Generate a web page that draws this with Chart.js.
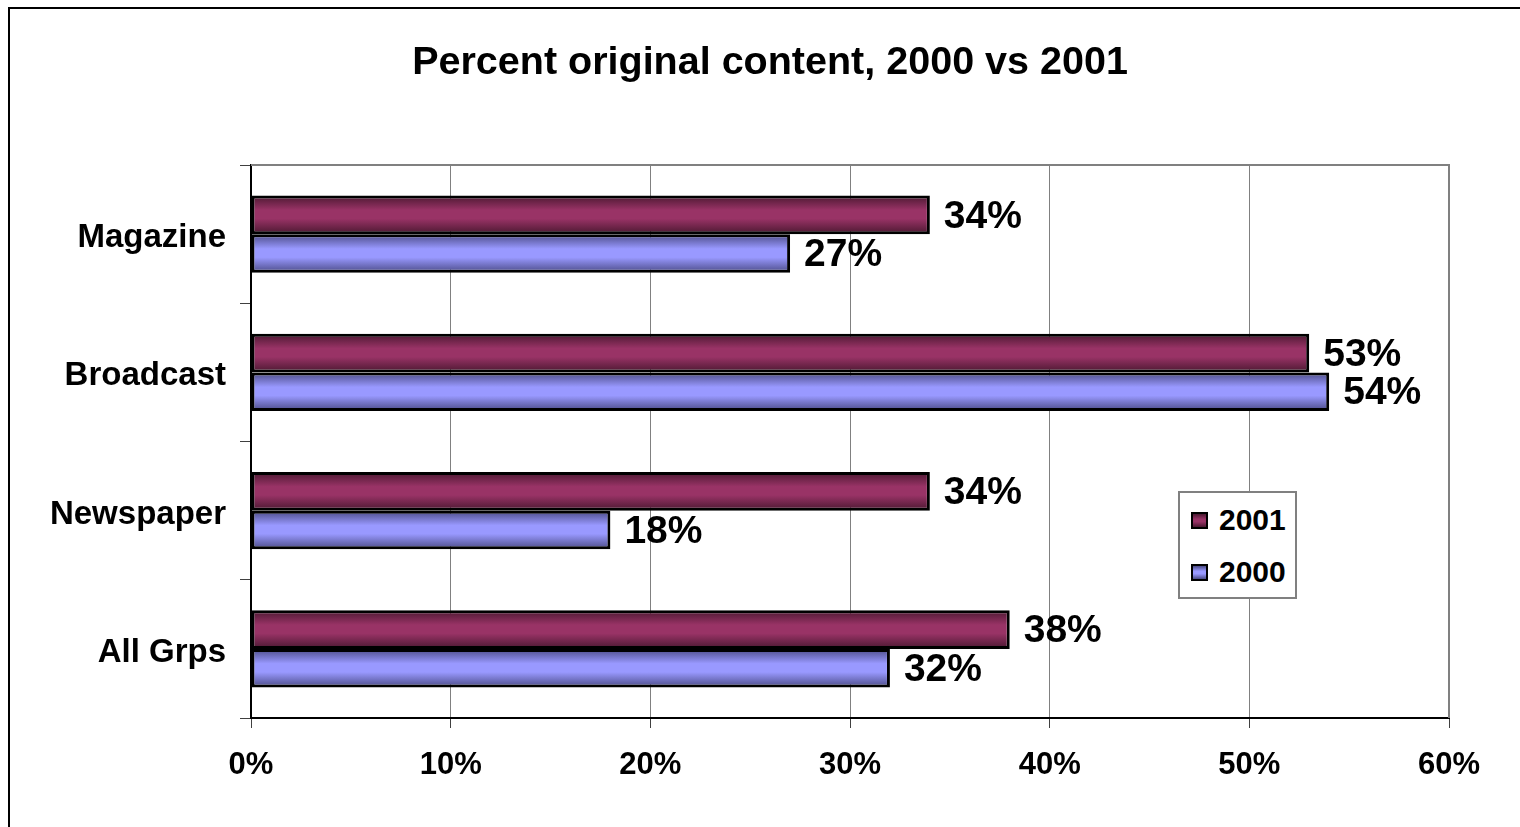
<!DOCTYPE html>
<html>
<head>
<meta charset="utf-8">
<script src="https://cdn.jsdelivr.net/npm/chart.js@4/dist/chart.umd.min.js"></script>
<style>
  html, body { margin: 0; padding: 0; background: #fff; overflow: hidden; }
  #frame { position: absolute; left: 8px; top: 7px; width: 1700px; height: 1000px;
           border-left: 2px solid #000; border-top: 2px solid #000; }
  #wrap { position: absolute; left: 0; top: 0; width: 1540px; height: 827px; }
  #legend { position: absolute; left: 1178px; top: 491px; width: 115px; height: 104px;
            border: 2px solid #808080; background: #fff; font: bold 30px Arial, "Liberation Sans", sans-serif; }
  #legend .item { position: absolute; left: 11px; height: 34px; line-height: 34px; }
  #legend .box { display: inline-block; width: 13px; height: 13px; border: 2px solid #000;
                 vertical-align: middle; margin-right: 11px; position: relative; top: -2px; }
</style>
</head>
<body>
<div id="frame"></div>
<div id="wrap"><canvas id="myChart" width="1540" height="827"></canvas></div>
<div id="legend"></div>
<script>
var categories = ['Magazine', 'Broadcast', 'Newspaper', 'All Grps'];
var values2001 = [34, 53, 34, 38];
var values2000 = [27, 54, 18, 32];
var xTicks = [0, 10, 20, 30, 40, 50, 60];

var catPct = 0.56;
var fontName = 'Arial, "Liberation Sans", sans-serif';

function barFill(dark, light) {
    return function (c) {
        var chart = c.chart;
        var ys = chart.scales.y;
        if (!ys || !chart.chartArea || c.dataIndex === undefined) return light;
        var center = ys.getPixelForValue(c.dataIndex);
        var catW = ys.height / categories.length * catPct;
        var top = center - catW / 2 + c.datasetIndex * catW / 2;
        var g = chart.ctx.createLinearGradient(0, top, 0, top + catW / 2);
        g.addColorStop(0, dark);
        g.addColorStop(0.38, light);
        g.addColorStop(0.6, light);
        g.addColorStop(1, dark);
        return g;
    };
}

var labelPlugin = {
    id: 'valueLabels',
    afterDatasetsDraw: function (chart) {
        var ctx = chart.ctx;
        ctx.save();
        ctx.font = 'bold 39px ' + fontName;
        ctx.fillStyle = '#000';
        ctx.textAlign = 'left';
        ctx.textBaseline = 'middle';
        chart.data.datasets.forEach(function (ds, i) {
            chart.getDatasetMeta(i).data.forEach(function (el, j) {
                ctx.fillText(ds.data[j] + '%', el.x + 14, el.y + 2);
            });
        });
        ctx.restore();
    }
};

var framePlugin = {
    id: 'plotFrame',
    beforeDatasetsDraw: function (chart) {
        var a = chart.chartArea;
        var ctx = chart.ctx;
        ctx.save();
        ctx.strokeStyle = '#808080';
        ctx.lineWidth = 2;
        ctx.beginPath();
        ctx.moveTo(a.left, a.top);
        ctx.lineTo(a.right, a.top);
        ctx.lineTo(a.right, a.bottom);
        ctx.stroke();
        ctx.restore();
    }
};

var ctx = document.getElementById('myChart').getContext('2d');
var chart = new Chart(ctx, {
    type: 'bar',
    data: {
        labels: categories,
        datasets: [{
            label: '2001',
            data: values2001,
            backgroundColor: barFill('#4a1830', '#993366'),
            borderColor: '#000',
            borderWidth: 3,
            borderSkipped: false
        },
        {
            label: '2000',
            data: values2000,
            backgroundColor: barFill('#4a4a85', '#9999ff'),
            borderColor: '#000',
            borderWidth: 3,
            borderSkipped: false
        }]
    },
    options: {
        indexAxis: 'y',
        responsive: false,
        animation: false,
        devicePixelRatio: 1,
        categoryPercentage: catPct,
        barPercentage: 1,
        layout: { padding: 0 },
        plugins: {
            legend: { display: false },
            tooltip: { enabled: false },
            title: {
                display: true,
                text: 'Percent original content, 2000 vs 2001',
                color: '#000',
                font: { family: fontName, size: 39.5, weight: 'bold' },
                padding: { top: 39, bottom: 78.6 }
            }
        },
        scales: {
            x: {
                min: 0,
                max: 60,
                afterFit: function (s) { s.height = 109; },
                afterBuildTicks: function (s) {
                    s.ticks = xTicks.map(function (v) { return { value: v }; });
                },
                ticks: {
                    color: '#000',
                    padding: 19,
                    font: { family: fontName, size: 31, weight: 'bold' },
                    callback: function (v) { return v + '%'; }
                },
                grid: { color: '#808080', lineWidth: 1, tickLength: 10, tickColor: '#404040' },
                border: { color: '#000', width: 2 }
            },
            y: {
                afterFit: function (s) { s.width = 251; },
                ticks: {
                    color: '#000',
                    padding: 14,
                    labelOffset: 4,
                    font: { family: fontName, size: 33, weight: 'bold' }
                },
                grid: { drawOnChartArea: false, offset: true, tickLength: 11, color: '#404040' },
                border: { color: '#000', width: 2 }
            },
            // empty right-hand margin so the title centres like the original
            yRight: {
                axis: 'y',
                type: 'category',
                position: 'right',
                afterFit: function (s) { s.width = 91; },
                ticks: { display: false },
                grid: { display: false },
                border: { display: false }
            }
        }
    },
    plugins: [labelPlugin, framePlugin]
});

// legend built from the datasets
var legendEl = document.getElementById('legend');
var legendColors = [['#4a1830', '#993366'], ['#4a4a85', '#9999ff']];
chart.data.datasets.forEach(function (ds, i) {
    var item = document.createElement('div');
    item.className = 'item';
    item.style.top = (10 + i * 52) + 'px';
    var box = document.createElement('span');
    box.className = 'box';
    var c = legendColors[i];
    box.style.background = 'linear-gradient(' + c[0] + ',' + c[1] + ' 40%,' + c[1] + ' 60%,' + c[0] + ')';
    item.appendChild(box);
    item.appendChild(document.createTextNode(ds.label));
    legendEl.appendChild(item);
});
</script>
</body>
</html>
